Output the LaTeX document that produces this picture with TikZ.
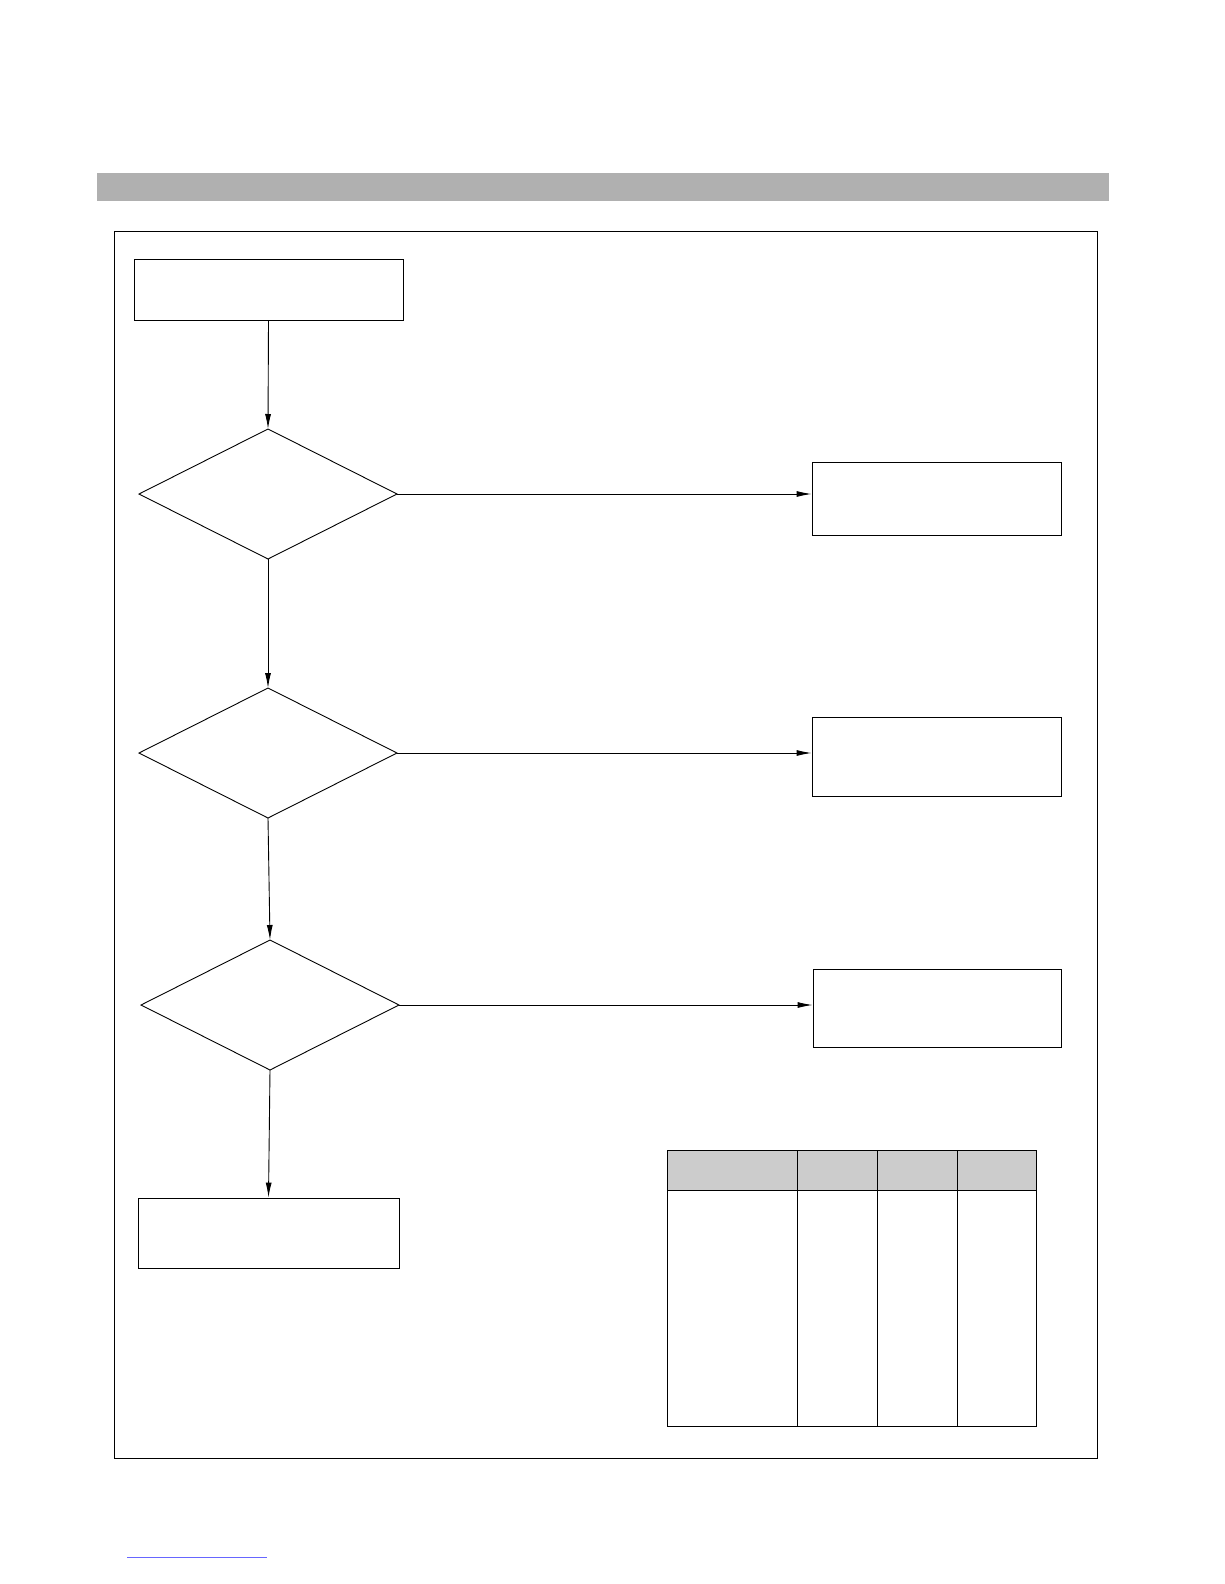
\documentclass[tikz,border=0pt]{standalone}
\usetikzlibrary{arrows.meta,shapes.geometric}
\begin{document}
\begin{tikzpicture}[x=1pt,y=-1pt,
  box/.style={draw,line width=0.9pt,minimum width=#1,inner sep=0},
  dia/.style={draw,line width=0.9pt},
  arr/.style={line width=0.9pt,-{Latex[length=15pt,width=6pt]}}]
\useasboundingbox (0,0) rectangle (1224,1584);
\fill[gray!62] (97,173) rectangle (1109,201);
\draw[line width=0.9pt] (114,231) rectangle (1097,1458);
\draw[blue!60,line width=0.6pt] (127,1557) -- (267,1557);
\node[draw,line width=0.9pt,minimum width=269pt,minimum height=61pt,inner sep=0] (b0) at (268.5,289.5) {};
\coordinate (d1) at (268,494);
\draw[dia] (268,429) -- (397,494) -- (268,559) -- (139,494) -- cycle;
\coordinate (d1t) at (268,429);\coordinate (d1r) at (397,494);\coordinate (d1b) at (268,559);
\coordinate (d2t) at (268,688);\coordinate (d2r) at (397,753);\coordinate (d2b) at (268,818);
\draw[dia] (d2t) -- (d2r) -- (d2b) -- (139,753) -- cycle;
\coordinate (d3t) at (270,940);\coordinate (d3r) at (399,1005);\coordinate (d3b) at (270,1070);
\draw[dia] (d3t) -- (d3r) -- (d3b) -- (141,1005) -- cycle;
\node[draw,line width=0.9pt,minimum width=249pt,minimum height=73pt,inner sep=0] (r1) at (936.5,498.5) {};
\node[draw,line width=0.9pt,minimum width=249pt,minimum height=79pt,inner sep=0] (r2) at (936.5,756.5) {};
\node[draw,line width=0.9pt,minimum width=248pt,minimum height=78pt,inner sep=0] (r3) at (937,1008) {};
\node[draw,line width=0.9pt,minimum width=261pt,minimum height=70pt,inner sep=0] (b4) at (268.5,1233) {};
\draw[arr] (b0.south) -- (d1t);
\draw[arr] (d1b) -- (d2t);
\draw[arr] (d2b) -- (d3t);
\draw[arr] (d3b) -- (b4.north);
\draw[arr] (d1r) -- (r1.west|-d1r);
\draw[arr] (d2r) -- (r2.west|-d2r);
\draw[arr] (d3r) -- (r3.west|-d3r);
\fill[gray!40] (667,1150) rectangle (1036,1190);
\draw[line width=0.9pt] (667,1150) rectangle (1036,1426);
\draw[line width=0.9pt] (667,1190) -- (1036,1190);
\foreach \x in {797,877,957} \draw[line width=0.9pt] (\x,1150) -- (\x,1426);
\end{tikzpicture}
\end{document}
